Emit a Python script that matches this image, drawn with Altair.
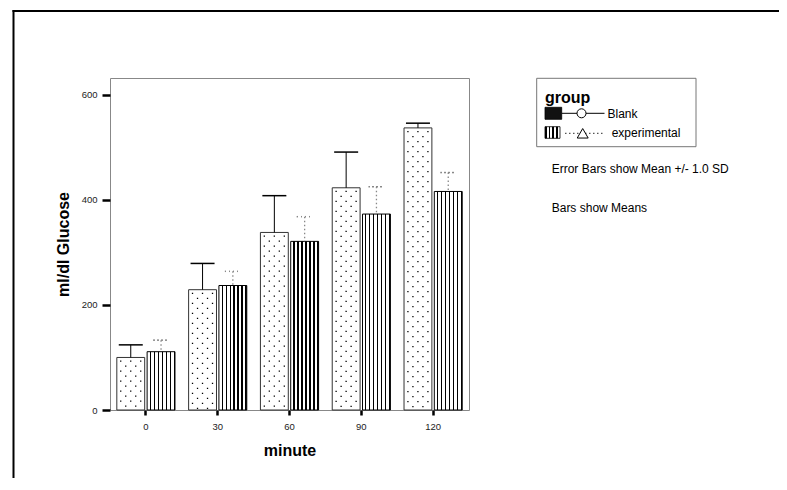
import altair as alt
import pandas as pd

# ---- data ----
minutes = ["0", "30", "60", "90", "120"]
groups = ["Blank", "experimental"]
blank_mean = [100, 229, 338, 423, 537]
blank_sd = [24, 50, 70, 68, 9]
exp_mean = [111, 237, 321, 373, 416]
exp_sd = [22, 27, 47, 52, 36]

rows = []
for i, m in enumerate(minutes):
    rows.append({"minute": m, "group": "Blank", "mean": blank_mean[i], "sd": blank_sd[i]})
    rows.append({"minute": m, "group": "experimental", "mean": exp_mean[i], "sd": exp_sd[i]})
df = pd.DataFrame(rows)

# texture columns for the dotted (Blank) bars
dot_cols = ["c0", "c1", "c2", "c3", "c4"]
dots_df = pd.DataFrame([{"minute": m, "col": c, "parity": j % 2, "mean": blank_mean[i]}
                        for i, m in enumerate(minutes) for j, c in enumerate(dot_cols)])

FONT = "Liberation Sans"
W, H = 359, 332

xscale = alt.Scale(domain=minutes, paddingInner=0.19, paddingOuter=0.095)
oscale = alt.Scale(domain=groups, paddingInner=0.08, paddingOuter=0.0)
dscale = alt.Scale(type="point", domain=dot_cols, range=[3.9, 23.9], padding=0)
yscale = alt.Scale(domain=[0, 632], nice=False, zero=True)

xaxis = alt.Axis(title="minute", labelAngle=0, tickSize=5, tickWidth=2.5, tickColor="black",
                 domain=False, labelPadding=6, labelFontSize=9.5, labelColor="#222",
                 labelFont=FONT, titleFont=FONT, titleFontSize=16, titleFontWeight="bold",
                 titlePadding=12, titleColor="black")
yaxis = alt.Axis(title="ml/dl Glucose", values=[0, 200, 400, 600], tickSize=8, tickWidth=2.5,
                 tickColor="black", domain=False, grid=False, labelPadding=5, labelFontSize=9.5,
                 labelColor="#222", labelFont=FONT, titleFont=FONT, titleFontSize=16,
                 titleFontWeight="bold", titlePadding=10, titleColor="black")


def X():
    return alt.X("minute:N", scale=xscale, axis=xaxis, sort=minutes)


def XO():
    return alt.XOffset("group:N", scale=oscale, sort=groups)


def Y(f):
    return alt.Y(f, scale=yscale, axis=yaxis)


base = alt.Chart(df).transform_calculate(upper="datum.mean + datum.sd")
blank = base.transform_filter("datum.group == 'Blank'")
exper = base.transform_filter("datum.group == 'experimental'")


def stripes(n, frac_first, c1="white", c2="black"):
    stops = []
    for i in range(n):
        a = i / n
        b = (i + frac_first) / n
        c = (i + 1) / n
        stops += [alt.GradientStop(offset=a, color=c1), alt.GradientStop(offset=b, color=c1),
                  alt.GradientStop(offset=b, color=c2), alt.GradientStop(offset=c, color=c2)]
    return alt.LinearGradient(gradient="linear", stops=stops, x1=0, x2=1, y1=0, y2=0)


# bars
bars_blank = blank.mark_bar(fill="white", stroke="#333", strokeWidth=1).encode(
    x=X(), xOffset=XO(), y=Y("mean:Q"))
bars_exp = exper.mark_bar(fill=stripes(7, 0.66), stroke="black", strokeWidth=1).encode(
    x=X(), xOffset=XO(), y=Y("mean:Q"))

# dotted texture for Blank bars
dot_layers = []
for par in (0, 1):
    dot_layers.append(
        alt.Chart(dots_df).transform_filter(f"datum.parity == {par}")
        .mark_rule(color="black", strokeWidth=1.3, strokeDash=[1.3, 8.7],
                   strokeDashOffset=7 if par == 0 else 2)
        .encode(x=X(), xOffset=alt.XOffset("col:N", scale=dscale, sort=dot_cols),
                y=Y("mean:Q"), y2=alt.datum(0)))

# error bars (upper half)
err_blank = blank.mark_rule(color="black", strokeWidth=1).encode(
    x=X(), xOffset=XO(), y=Y("upper:Q"), y2="mean:Q")
cap_blank = blank.mark_tick(color="black", size=24, thickness=1.5, opacity=1).encode(
    x=X(), xOffset=XO(), y=Y("upper:Q"))
err_exp = exper.mark_rule(color="#888", strokeWidth=1.3, strokeDash=[1.5, 2.5]).encode(
    x=X(), xOffset=XO(), y=Y("upper:Q"), y2="mean:Q")
cap_exp = exper.mark_tick(fill=stripes(4, 0.4, "#888", "rgba(255,255,255,0)"), size=16,
                          thickness=1.5, opacity=1, strokeWidth=0).encode(
    x=X(), xOffset=XO(), y=Y("upper:Q"))

# ---- legend and notes (decoration outside the plot area) ----
one = alt.Chart(pd.DataFrame({"k": [0]}))
legend_box = one.mark_rect(fill="white", stroke="#777", strokeWidth=1).encode(
    x=alt.value(426.7), x2=alt.value(586), y=alt.value(0.3), y2=alt.value(68.7))
legend_title = one.mark_text(text="group", font=FONT, fontSize=16, fontWeight="bold",
                             align="left", baseline="alphabetic", color="black").encode(
    x=alt.value(435), y=alt.value(24.7))
sym_blank = one.mark_rect(fill="#111", stroke="black", strokeWidth=0.8).encode(
    x=alt.value(435), x2=alt.value(451.7), y=alt.value(29.3), y2=alt.value(41.3))
line_blank = one.mark_rule(color="black", strokeWidth=1).encode(
    x=alt.value(451.7), x2=alt.value(494.5), y=alt.value(35.3))
circ_blank = one.mark_point(shape="circle", size=81, filled=True, fill="white",
                            stroke="black", strokeWidth=1, opacity=1).encode(
    x=alt.value(471.5), y=alt.value(35.3))
lab_blank = one.mark_text(text="Blank", font=FONT, fontSize=12, align="left",
                          baseline="middle", color="black").encode(
    x=alt.value(497.5), y=alt.value(35.5))
sym_exp = one.mark_rect(fill=stripes(4, 0.45, "black", "white"), stroke="black",
                        strokeWidth=0.8).encode(
    x=alt.value(435), x2=alt.value(450), y=alt.value(48.7), y2=alt.value(60.3))
line_exp = one.mark_rule(color="#555", strokeWidth=1.2, strokeDash=[1.5, 2.5]).encode(
    x=alt.value(455), x2=alt.value(495), y=alt.value(55.3))
tri_exp = one.mark_point(shape="triangle-up", size=120, filled=True, fill="white",
                         stroke="black", strokeWidth=1, opacity=1).encode(
    x=alt.value(472.7), y=alt.value(55.3))
lab_exp = one.mark_text(text="experimental", font=FONT, fontSize=12, align="left",
                        baseline="middle", color="black").encode(
    x=alt.value(501.7), y=alt.value(54.5))
note1 = one.mark_text(text="Error Bars show Mean +/- 1.0 SD", font=FONT, fontSize=12,
                      align="left", baseline="middle", color="black").encode(
    x=alt.value(441.7), y=alt.value(91.3))
note2 = one.mark_text(text="Bars show Means", font=FONT, fontSize=12, align="left",
                      baseline="middle", color="black").encode(
    x=alt.value(441.7), y=alt.value(129.7))
border_top = one.mark_rule(color="black", strokeWidth=2).encode(
    x=alt.value(-97.5), x2=alt.value(669), y=alt.value(-67))
border_left = one.mark_rule(color="black", strokeWidth=2).encode(
    x=alt.value(-96.5), y=alt.value(-68), y2=alt.value(400))

chart = alt.layer(
    bars_blank, bars_exp, *dot_layers, err_blank, err_exp, cap_blank, cap_exp,
    legend_box, legend_title, line_blank, sym_blank, circ_blank, lab_blank,
    line_exp, sym_exp, tri_exp, lab_exp, note1, note2, border_top, border_left,
).resolve_scale(xOffset="independent").properties(
    width=W, height=H,
    autosize=alt.AutoSizeParams(type="none"),
    padding={"left": 102, "top": 70, "right": 310, "bottom": 68},
    background="white",
).configure_view(stroke="#888", strokeWidth=1)

chart.save("out.html", embed_options={"renderer": "svg", "actions": False})
